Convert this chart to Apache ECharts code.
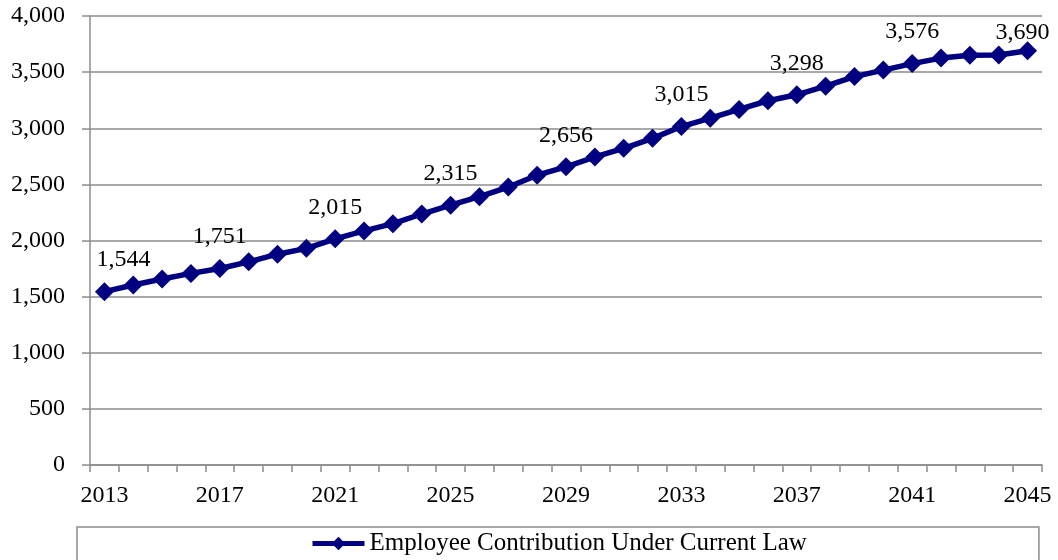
<!DOCTYPE html>
<html>
<head>
<meta charset="utf-8">
<script src="https://cdn.jsdelivr.net/npm/echarts@6/dist/echarts.min.js"></script>
<style>
html,body{margin:0;padding:0;background:#fff;}
#chart{width:1058px;height:560px;}
</style>
</head>
<body>
<div id="chart"></div>
<script>
var years = ['2013','2014','2015','2016','2017','2018','2019','2020','2021','2022','2023','2024','2025','2026','2027','2028','2029','2030','2031','2032','2033','2034','2035','2036','2037','2038','2039','2040','2041','2042','2043','2044','2045'];
var contribution = [1544,1604,1657,1707,1751,1810,1878,1930,2015,2085,2150,2236,2315,2390,2476,2582,2656,2744,2821,2910,3015,3090,3168,3245,3298,3375,3460,3518,3576,3625,3650,3652,3690];
var seriesName = 'Employee Contribution Under Current Law';
var yTicks = [0, 500, 1000, 1500, 2000, 2500, 3000, 3500, 4000];

var FONT = '"Liberation Serif", "Times New Roman", serif';
function fmt(v){ return String(v).replace(/\B(?=(\d{3})+(?!\d))/g, ','); }

var last = contribution.length - 1;
var seriesData = contribution.map(function(v, i){
  var show = (i % 4 === 0);
  var off = [0, 0];
  if (i === 0) off = [19, 0];
  if (i === last) off = [-5, 13];
  return { value: v, label: { show: show, offset: off } };
});

var chart = echarts.init(document.getElementById('chart'), null, {renderer:'canvas'});
chart.setOption({
  animation: false,
  backgroundColor: '#ffffff',
  grid: { left: 90, right: 16, top: 16, bottom: 95, containLabel: false },
  xAxis: {
    type: 'category',
    data: years,
    boundaryGap: true,
    axisLine: { lineStyle: { color: '#8c8c8c', width: 1.5 } },
    axisTick: { show: true, interval: 0, length: 7, lineStyle: { color: '#8c8c8c', width: 1.5 } },
    axisLabel: { interval: 3, margin: 19, color: '#000', fontFamily: FONT, fontSize: 24 },
    splitLine: { show: false }
  },
  yAxis: {
    type: 'value',
    min: yTicks[0],
    max: yTicks[yTicks.length - 1],
    interval: yTicks[1] - yTicks[0],
    axisLine: { show: true, lineStyle: { color: '#8c8c8c', width: 1.5 } },
    axisTick: { show: true, length: 8, lineStyle: { color: '#8c8c8c', width: 1.5 } },
    axisLabel: { margin: 25, color: '#000', fontFamily: FONT, fontSize: 24, formatter: function(v){ return fmt(v); } },
    splitLine: { show: true, lineStyle: { color: '#8c8c8c', width: 1.5 } }
  },
  legend: {
    show: true,
    left: 77,
    top: 527,
    padding: [4, 232, 30, 233],
    borderColor: '#8c8c8c',
    borderWidth: 1.5,
    itemWidth: 52,
    itemHeight: 17,
    lineStyle: { width: 5 },
    textStyle: { color: '#000', fontFamily: FONT, fontSize: 25 },
    data: [seriesName]
  },
  series: [{
    name: seriesName,
    type: 'line',
    data: seriesData,
    symbol: 'diamond',
    symbolSize: 19,
    showSymbol: true,
    lineStyle: { color: '#000080', width: 5.5 },
    itemStyle: { color: '#000080' },
    label: {
      position: 'top',
      distance: 10,
      color: '#000',
      fontFamily: FONT,
      fontSize: 24,
      formatter: function(p){ return fmt(p.value); }
    }
  }]
});
</script>
</body>
</html>
